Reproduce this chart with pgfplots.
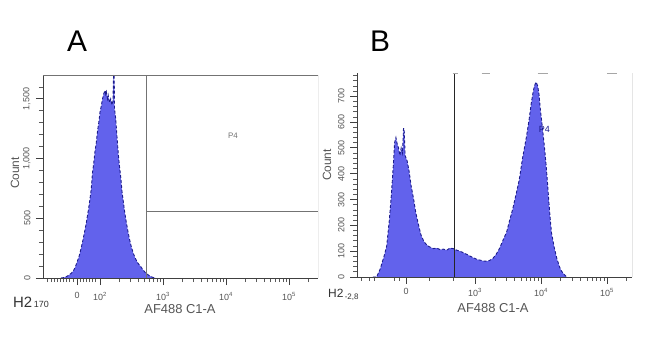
\documentclass[border=0pt]{standalone}
\usepackage{fontspec}
\setmainfont{Liberation Sans}
\usepackage{pgfplots}
\usepackage{pgfplotstable}
\pgfplotsset{compat=1.18}
\definecolor{hfill}{RGB}{98,98,236}
\definecolor{hline}{RGB}{28,28,140}
\definecolor{tickgray}{RGB}{85,85,85}
\definecolor{framegray}{RGB}{115,115,115}

\pgfplotstableread{
u y
1.38 0
1.42 3
1.46 10
1.50 22
1.54 38
1.58 62
1.61 95
1.64 140
1.67 185
1.70 250
1.73 320
1.76 400
1.78 455
1.80 520
1.82 585
1.84 660
1.86 740
1.88 880
1.90 960
1.92 1060
1.94 1130
1.96 1230
1.98 1300
2.00 1390
2.02 1440
2.04 1500
2.06 1545
2.08 1570
2.09 1540
2.10 1560
2.12 1500
2.13 1530
2.15 1470
2.17 1500
2.19 1450
2.205 1480
2.215 1700
2.225 1700
2.23 1420
2.25 1330
2.27 1180
2.29 1040
2.31 930
2.33 840
2.35 720
2.37 640
2.39 560
2.41 490
2.44 400
2.47 320
2.50 255
2.53 205
2.56 165
2.60 125
2.64 100
2.68 70
2.72 45
2.76 28
2.80 14
2.84 5
2.88 0
}\dataA

\pgfplotstableread{
v y
1.45 0
1.507 0
1.56 30
1.62 80
1.66 120
1.70 220
1.73 315
1.76 430
1.78 520
1.80 540
1.82 515
1.84 500
1.86 470
1.88 500
1.90 480
1.915 575
1.925 575
1.94 470
1.97 450
2.00 410
2.03 354
2.07 300
2.10 251
2.14 205
2.18 163
2.22 140
2.25 129
2.30 118
2.37 110
2.42 112
2.47 106
2.52 108
2.57 104
2.62 112
2.67 110
2.72 104
2.78 99
2.83 93
2.88 87
2.93 80
2.98 74
3.03 68
3.08 65
3.13 62
3.18 61
3.22 64
3.27 72
3.32 88
3.37 110
3.42 140
3.48 175
3.52 215
3.57 262
3.62 318
3.67 376
3.72 460
3.78 544
3.82 610
3.85 669
3.88 715
3.90 740
3.925 755
3.95 740
3.97 707
3.99 650
4.015 593
4.05 510
4.075 441
4.10 360
4.12 289
4.14 225
4.16 170
4.20 115
4.24 72
4.28 40
4.31 23
4.35 10
4.39 0
}\dataB

\pgfplotsset{flowstyle/.style={
  scale only axis,
  axis x line*=bottom, axis y line*=left,
  axis line style={-, draw=black!75, line width=0.8pt},
  xtick pos=left, ytick pos=left,
  tick align=outside,
  major tick length=7bp, minor tick length=4bp,
  every tick/.style={black!75, line width=0.8pt},
  every minor tick/.style={black!65, line width=0.7pt},
  tick label style={text=tickgray},
  /pgf/number format/assume math mode=true,
  xticklabel style={font=\fontsize{9}{9}\selectfont},
  yticklabel style={font=\fontsize{9}{9}\selectfont, rotate=90, anchor=south, yshift=2bp},
  ymin=0, clip=true,
}}

\begin{document}
\begin{tikzpicture}
\useasboundingbox (0,0) rectangle (650bp,338bp);

% Panel A
\begin{axis}[flowstyle, at={(43bp,60bp)}, anchor=south west,
  width=275bp, height=203bp,
  xmin=1.095, xmax=5.46, ymax=1700,
  xtick={1.635,2,3,4,5},
  xticklabels={0,10\textsuperscript{2},10\textsuperscript{3},10\textsuperscript{4},10\textsuperscript{5}},
  xticklabel style={yshift=-4bp},
  minor xtick={1.17,1.22,1.27,1.32,1.37,1.42,1.47,1.52,1.57,1.68,1.73,1.78,1.83,1.88,1.93,
    2.301,2.477,2.602,2.699,2.778,2.845,2.903,2.954,
    3.301,3.477,3.602,3.699,3.778,3.845,3.903,3.954,
    4.301,4.477,4.602,4.699,4.778,4.845,4.903,4.954,5.301},
  ytick={0,500,1000,1500}, yticklabels={0,500,{1,000},{1,500}},
  minor ytick={100,200,300,400,600,700,800,900,1100,1200,1300,1400,1600},
]
\addplot[fill=hfill, draw=none] table[x=u,y=y]{\dataA} \closedcycle;
\addplot[hline, line width=0.9pt, densely dashed] table[x=u,y=y]{\dataA};
\draw[framegray, line width=0.7pt] (rel axis cs:0,1) -- (rel axis cs:1,1) -- (rel axis cs:1,0);
\draw[framegray, line width=0.9pt] (axis cs:2.738,0) -- (axis cs:2.738,1700);
\draw[framegray, line width=0.9pt] (axis cs:2.738,555) -- (axis cs:5.46,555);
\node[text=framegray, font=\fontsize{8}{8}\selectfont] at (axis cs:4.11,1190) {P4};
\end{axis}

% Panel B
\begin{axis}[flowstyle, at={(357bp,61bp)}, anchor=south west,
  width=275bp, height=204bp,
  xmin=1.21, xmax=5.38, ymax=790,
  xtick={1.955,3,4,5},
  xticklabels={0,10\textsuperscript{3},10\textsuperscript{4},10\textsuperscript{5}},
  xticklabel style={yshift=-1bp},
  minor xtick={1.28,1.39,1.48,1.78,1.85,2.30,2.67,
    3.301,3.477,3.602,3.699,3.778,3.845,3.903,3.954,
    4.301,4.477,4.602,4.699,4.778,4.845,4.903,4.954,5.301},
  ytick={0,100,200,300,400,500,600,700},
  yticklabels={0,100,200,300,400,500,600,700},
  minor ytick={20,40,60,80,120,140,160,180,220,240,260,280,320,340,360,380,420,440,460,480,520,540,560,580,620,640,660,680,720,740,760,780},
]
\addplot[fill=hfill, draw=none] table[x=v,y=y]{\dataB} \closedcycle;
\addplot[hline, line width=0.9pt, densely dashed] table[x=v,y=y]{\dataB};
\draw[black!80, line width=0.7pt] (rel axis cs:1,0) -- (rel axis cs:1,1);
\draw[black!85, line width=0.9pt] (axis cs:2.69,0) -- (axis cs:2.69,790);
\draw[black!35, line width=0.8pt] (axis cs:2.66,790) -- (axis cs:2.74,790);
\draw[black!35, line width=0.8pt] (axis cs:3.10,790) -- (axis cs:3.22,790);
\draw[black!35, line width=0.8pt] (axis cs:3.95,790) -- (axis cs:4.10,790);
\draw[black!35, line width=0.8pt] (axis cs:5.00,790) -- (axis cs:5.15,790);
\node[text=hline, font=\fontsize{9}{9}\selectfont] at (axis cs:4.05,570) {P4};
\end{axis}

% Panel letters and labels
\node[anchor=base west, inner sep=0pt, font=\fontsize{30}{30}\selectfont] at (67bp,286bp) {A};
\node[anchor=base west, inner sep=0pt, font=\fontsize{30}{30}\selectfont] at (370bp,286bp) {B};
\node[rotate=90, text=tickgray, font=\fontsize{12}{12}\selectfont] at (15bp,165bp) {Count};
\node[rotate=90, text=tickgray, font=\fontsize{12}{12}\selectfont] at (327bp,173bp) {Count};
\node[text=tickgray, font=\fontsize{13}{13}\selectfont] at (180bp,29bp) {AF488 C1-A};
\node[text=tickgray, font=\fontsize{13}{13}\selectfont] at (493bp,30bp) {AF488 C1-A};
\node[anchor=base west, inner sep=0pt, text=black!80] at (13bp,31bp) {\fontsize{15}{15}\selectfont H2\fontsize{9}{9}\selectfont\,170};
\node[anchor=base west, inner sep=0pt, text=black!80] at (328bp,40bp) {\fontsize{12}{12}\selectfont H2\raisebox{-2bp}{\fontsize{8}{8}\selectfont\,-2,8}};
\end{tikzpicture}
\end{document}
